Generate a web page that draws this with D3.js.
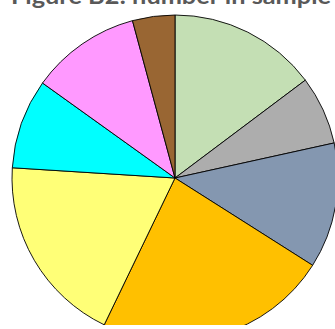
<!DOCTYPE html>
<html>
<head>
<meta charset="utf-8">
<script src="https://cdn.jsdelivr.net/npm/d3@7"></script>
<style>
  html, body { margin: 0; padding: 0; background: #fff; }
  svg { display: block; }
</style>
</head>
<body>
<script>
// Share of the sample by group, clockwise from 12 o'clock
const groups = ["Group 1", "Group 2", "Group 3", "Group 4", "Group 5", "Group 6", "Group 7", "Group 8"];
const shares = [14.75, 6.8, 12.45, 23.15, 18.85, 8.9, 10.9, 4.2];
const sliceColors = ["#C4DFB4", "#ADADAD", "#8497B0", "#FFC000", "#FFFF77", "#00FFFF", "#FF99FF", "#996633"];
const titleText = "Figure B2: number in sample";

const W = 335, H = 329;
const svg = d3.select("body").append("svg").attr("width", W).attr("height", H);

// plot area is clipped at the bottom
svg.append("defs").append("clipPath").attr("id", "plotClip")
  .append("rect").attr("x", 0).attr("y", 0).attr("width", W).attr("height", 325);

const cx = 175, cy = 178, r = 163;

const data = groups.map((g, i) => ({ group: g, value: shares[i], color: sliceColors[i] }));
const pie = d3.pie().value(d => d.value).sort(null);
const arc = d3.arc().innerRadius(0).outerRadius(r);

svg.append("g")
  .attr("clip-path", "url(#plotClip)")
  .append("g")
  .attr("transform", `translate(${cx},${cy})`)
  .selectAll("path")
  .data(pie(data))
  .join("path")
  .attr("d", arc)
  .attr("fill", d => d.data.color)
  .attr("stroke", "#000")
  .attr("stroke-width", 0.9)
  .attr("stroke-linejoin", "round");

svg.append("text")
  .attr("x", 11)
  .attr("y", 4)
  .attr("font-family", "Lato, 'Open Sans', sans-serif")
  .attr("font-weight", "bold")
  .attr("font-size", 23)
  .attr("textLength", 320)
  .attr("lengthAdjust", "spacingAndGlyphs")
  .attr("fill", "#595959")
  .text(titleText);
</script>
</body>
</html>
